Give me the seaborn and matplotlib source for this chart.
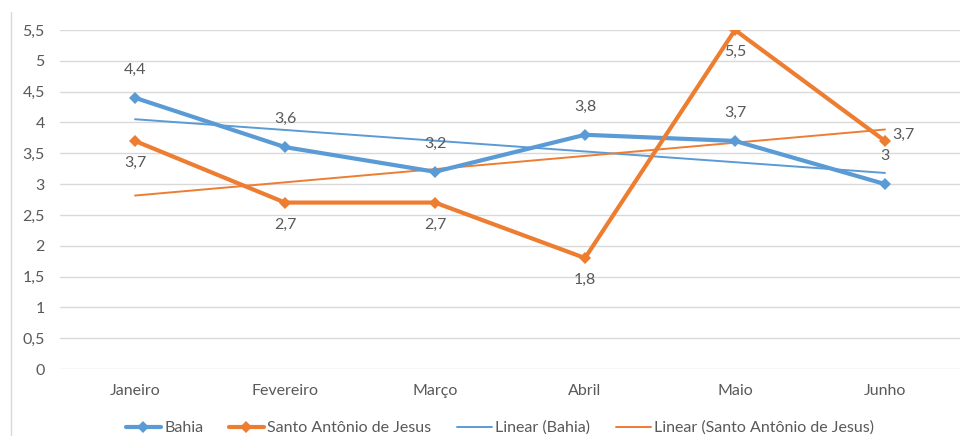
import numpy as np
import pandas as pd
import matplotlib
matplotlib.use("Agg")
import matplotlib.pyplot as plt
from matplotlib.lines import Line2D
import seaborn as sns

meses = ["Janeiro", "Fevereiro", "Março", "Abril", "Maio", "Junho"]
bahia = [4.4, 3.6, 3.2, 3.8, 3.7, 3.0]
santo_antonio = [3.7, 2.7, 2.7, 1.8, 5.5, 3.7]
y_ticks = [0, 0.5, 1, 1.5, 2, 2.5, 3, 3.5, 4, 4.5, 5, 5.5]

AZUL = "#5B9BD5"
LARANJA = "#ED7D31"
CINZA = "#595959"
FS = 11.5

sns.set_theme(style="white")
plt.rcParams["font.family"] = ["Lato", "DejaVu Sans"]

pos = np.arange(len(meses))
df = pd.DataFrame({
    "pos": np.concatenate([pos, pos]),
    "valor": bahia + santo_antonio,
    "serie": ["Bahia"] * len(meses) + ["Santo Antônio de Jesus"] * len(meses),
})

fig = plt.figure(figsize=(9.66, 4.36), dpi=100)
ax = fig.add_axes([60 / 966, 67 / 436, 900 / 966, 339 / 436])

# tendências lineares (mínimos quadrados)
sns.regplot(x=pos, y=np.array(bahia), ax=ax, scatter=False, ci=None, truncate=True,
            line_kws={"color": AZUL, "lw": 1.4, "zorder": 2})
sns.regplot(x=pos, y=np.array(santo_antonio), ax=ax, scatter=False, ci=None, truncate=True,
            line_kws={"color": LARANJA, "lw": 1.4, "zorder": 2})

sns.lineplot(data=df, x="pos", y="valor", hue="serie", style="serie",
             palette={"Bahia": AZUL, "Santo Antônio de Jesus": LARANJA},
             markers={"Bahia": "D", "Santo Antônio de Jesus": "D"},
             dashes=False, lw=3, markersize=6, markeredgewidth=0,
             ax=ax, legend=False, zorder=3)

def rotulo(v):
    return f"{v:g}".replace(".", ",")

# rótulos de dados
for i, v in enumerate(bahia):
    ax.annotate(rotulo(v), (i, v), xytext=(0, 15), textcoords="offset points",
                ha="center", va="bottom", fontsize=FS, color=CINZA)
for i, v in enumerate(santo_antonio):
    if i == len(meses) - 1:
        ax.annotate(rotulo(v), (i, v), xytext=(5, 4), textcoords="offset points",
                    ha="left", va="center", fontsize=FS, color=CINZA)
    else:
        ax.annotate(rotulo(v), (i, v), xytext=(0, -11), textcoords="offset points",
                    ha="center", va="top", fontsize=FS, color=CINZA)

ax.set_xlim(-0.5, len(meses) - 0.5)
ax.set_ylim(0, 5.5)
ax.set_yticks(y_ticks)
ax.set_yticklabels([rotulo(t) for t in y_ticks], color=CINZA, fontsize=FS)
ax.set_xticks(pos)
ax.set_xticklabels(meses, color=CINZA, fontsize=FS)
ax.tick_params(axis="y", length=0, pad=11)
ax.tick_params(axis="x", length=0, pad=11)
ax.set_xlabel("")
ax.set_ylabel("")
ax.grid(axis="y", color="#D9D9D9", lw=1)
ax.set_axisbelow(True)
for s in ax.spines.values():
    s.set_visible(False)

handles = [
    Line2D([], [], color=AZUL, lw=3, marker="D", markersize=6, markeredgewidth=0),
    Line2D([], [], color=LARANJA, lw=3, marker="D", markersize=6, markeredgewidth=0),
    Line2D([], [], color=AZUL, lw=1.4),
    Line2D([], [], color=LARANJA, lw=1.4),
]
labels = ["Bahia", "Santo Antônio de Jesus", "Linear (Bahia)", "Linear (Santo Antônio de Jesus)"]
fig.legend(handles, labels, loc="center", bbox_to_anchor=(500 / 966, 1 - 428 / 436),
           ncol=4, frameon=False, fontsize=FS, labelcolor=CINZA,
           handlelength=2.2, handletextpad=0.2, columnspacing=1.6)

# borda esquerda do gráfico
fig.add_artist(Line2D([11 / 966, 11 / 966], [0, 1 - 12 / 436], color="#D9D9D9", lw=1))

fig.savefig("out.png", dpi=100, facecolor="white")
